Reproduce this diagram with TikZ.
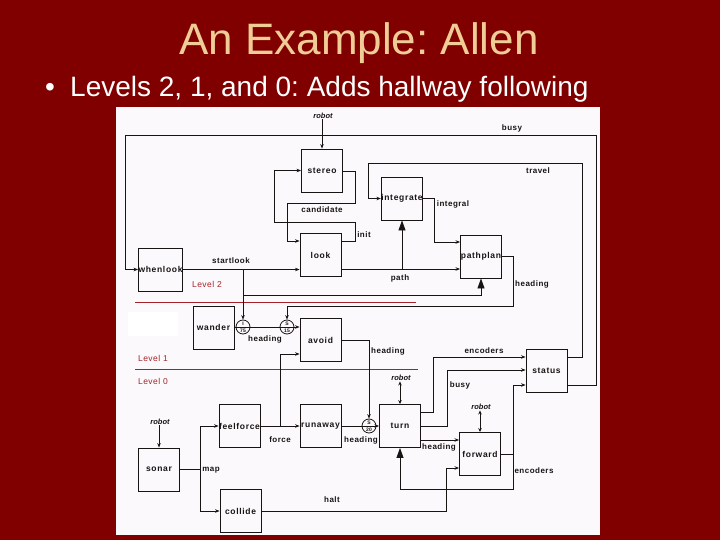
\documentclass[tikz,border=0pt]{standalone}
\usepackage{fontspec}
\setmainfont{Liberation Sans}
\newfontfamily\diagfont[LetterSpace=6]{Liberation Sans}
\newfontfamily\boxfam[LetterSpace=8]{Liberation Sans}
\usetikzlibrary{arrows.meta}
\definecolor{bgred}{RGB}{128,0,0}
\definecolor{titlecol}{RGB}{240,204,150}
\definecolor{panel}{RGB}{252,249,252}
\definecolor{lvlred}{RGB}{165,35,40}
\definecolor{ink}{RGB}{25,20,20}
\newcommand{\boxfont}{\fontsize{8.5}{9}\boxfam\bfseries}
\newcommand{\wfont}{\fontsize{8}{9}\diagfont\bfseries}
\newcommand{\robfont}{\fontsize{7.5}{8}\selectfont\bfseries\itshape}
\newcommand{\tinyfont}{\fontsize{5}{5}\selectfont\bfseries}
\tikzset{
  box/.style={draw=ink, line width=0.9pt, minimum width=41pt, minimum height=43pt, inner sep=0pt, font=\boxfont, text=ink},
  wire/.style={draw=ink, line width=0.8pt},
  arr/.style={wire, -{Stealth[length=4.5pt,width=3.5pt]}},
  bigarr/.style={wire, -{Triangle[length=10pt,width=7pt]}},
  dblarr/.style={wire, {Stealth[length=4pt,width=3.5pt]}-{Stealth[length=4pt,width=3.5pt]}},
  wl/.style={font=\wfont, text=ink, inner sep=0.5pt},
  rob/.style={font=\robfont, text=ink, inner sep=0.5pt},
  circ/.style={draw=ink, circle, minimum size=14pt, inner sep=0pt, line width=0.8pt},
  lvl/.style={font=\fontsize{8.5}{9}\diagfont, text=lvlred, inner sep=0pt},
  lvlline/.style={draw=lvlred, line width=1.2pt}
}
\begin{document}
\frenchspacing
\begin{tikzpicture}[x=1pt,y=-1pt]
\useasboundingbox (0,0) rectangle (720,540);
\fill[bgred] (0,0) rectangle (720,540);
\fill[panel] (116,107) rectangle (600,535);
\fill[white] (128,312) rectangle (178,336);

% title and bullet
\node[anchor=base, text=titlecol, font=\fontsize{44}{48}\selectfont] (title) at (359,55) {An Example: Allen};
\node[anchor=base, text=white, font=\fontsize{28}{30}\selectfont] (bul) at (50,97) {\textbullet};
\node[anchor=base west, text=white, font=\fontsize{28}{30}\selectfont, inner sep=0pt] (sub) at (70,97) {Levels 2, 1, and 0: Adds hallway following};

% boxes
\node[box] (stereo) at (322,170.5) {stereo};
\node[box] (look) at (320.5,255) {look};
\node[box] (integrate) at (402,198.5) {integrate};
\node[box] (pathplan) at (481,256.5) {pathplan};
\node[box] (whenlook) at (160.5,269.5) {whenlook};
\node[box] (wander) at (213.5,327.5) {wander};
\node[box] (avoid) at (320.5,340) {avoid};
\node[box] (status) at (546.5,370.5) {status};
\node[box] (feelforce) at (239.5,426) {feelforce};
\node[box] (runaway) at (320.5,426) {runaway};
\node[box] (sonar) at (159,469.5) {sonar};
\node[box] (collide) at (240.5,511) {collide};
\node[box] (turn) at (400,426) {turn};
\node[box] (forward) at (480,454) {forward};

% suppressor / inhibitor nodes
\node[circ] (c1) at (243,327) {};
\node[circ] (c2) at (287,327) {};
\node[circ] (c3) at (369,426) {};
\foreach \c/\t/\b in {c1/I/75, c2/S/15, c3/S/20}{
  \draw[wire, line width=0.6pt] (\c.west) -- (\c.east);
  \node[font=\tinyfont, text=ink, inner sep=0pt] at ([yshift=3.3pt]\c.center) {\t};
  \node[font=\tinyfont, text=ink, inner sep=0pt] at ([yshift=-3.5pt]\c.center) {\b};
}

% level separators
\draw[lvlline] (135,302.5) -- (416,302.5);
\draw[lvlline] (135,369.5) -- (418,369.5);
\node[lvl] (l2) at (207,284) {Level 2};
\node[lvl] (l1) at (153,358) {Level 1};
\node[lvl] (l0) at (153,381) {Level 0};

% robot labels
\node[rob] (r1) at (323,116) {robot};
\node[rob] (r2) at (401,378) {robot};
\node[rob] (r3) at (481,407) {robot};
\node[rob] (r4) at (160,422) {robot};
\draw[arr] (r1.south -| stereo.north) -- (stereo.north);
\draw[dblarr] (r2.south -| turn.north) -- (turn.north);
\draw[dblarr] (r3.south -| forward.north) -- (forward.north);
\draw[arr] (r4.south -| sonar.north) -- (sonar.north);

% level 2 wiring
\draw[arr] (status.east |- 0,385) -- (596,385) -- (596,135) -- (125,135) -- (125,269.5) -- (whenlook.west);
\node[wl] at (512,128) {busy};
\draw[arr] (status.east |- 0,357) -| (582,163) -| (368,198.5) -- (integrate.west);
\node[wl] at (538,171) {travel};
\draw[arr] (stereo.east |- 0,171) -| (355,203) -| (287,241) -- (look.west |- 0,241);
\node[wl] at (322,210) {candidate};
\draw[arr] (look.east |- 0,241) -| (355,222) -| (274,170.5) -- (stereo.west);
\node[wl] at (364,235) {init};
\draw[arr] (whenlook.east) -- (look.west |- whenlook.east);
\node[wl] at (231,261) {startlook};
\draw[arr] (243,269.5) -- (c1.north);
\draw[bigarr] (243,295) -| (pathplan.south);
\draw[arr] (look.east |- 0,269) -- (pathplan.west |- 0,269);
\draw[bigarr] (integrate.south |- 0,269) -- (integrate.south);
\node[wl] at (400,278) {path};
\draw[arr] (integrate.east |- 0,198.5) -| (434,242) -- (pathplan.west |- 0,242);
\node[wl] at (453,204) {integral};
\draw[arr] (pathplan.east) -| (513,306) -| (c2.north);
\node[wl] at (532,284) {heading};

% level 1 wiring
\draw[wire] (wander.east |- c1.west) -- (c1.west);
\draw[wire] (c1.east) -- (c2.west);
\node[wl] at (265,339) {heading};
\draw[arr] (c2.east) -- (avoid.west |- c2.east);
\draw[arr] (avoid.east) -| (c3.north);
\node[wl] at (388,351) {heading};

% level 0 wiring
\draw[arr] (feelforce.east) -- (runaway.west);
\draw[arr] (280,426) |- (avoid.west |- 0,354);
\node[wl] at (280,440) {force};
\draw[wire] (runaway.east) -- (c3.west);
\draw[arr] (c3.east) -- (turn.west);
\node[wl] at (361,440) {heading};
\draw[arr] (turn.east |- 0,412) -| (433,357) -- (status.west |- 0,357);
\node[wl] at (484,351) {encoders};
\draw[arr] (turn.east |- 0,426) -| (447,370) -- (status.west |- 0,370);
\node[wl] at (460,385) {busy};
\draw[arr] (turn.east |- 0,440) -- (forward.west |- 0,440);
\node[wl] at (439,447) {heading};
\draw[arr] (forward.east) -| (513,385) -- (status.west |- 0,385);
\draw[bigarr] (513,454) -- (513,489) -| (turn.south);
\node[wl] at (534,471) {encoders};
\draw[arr] (collide.east) -| (446,468) -- (forward.west |- 0,468);
\node[wl] at (332,500) {halt};
\draw[wire] (sonar.east) -- (200,469.5);
\draw[arr] (200,469.5) |- (feelforce.west);
\draw[arr] (200,469.5) |- (collide.west);
\node[wl] at (211,470) {map};
\end{tikzpicture}
\end{document}
